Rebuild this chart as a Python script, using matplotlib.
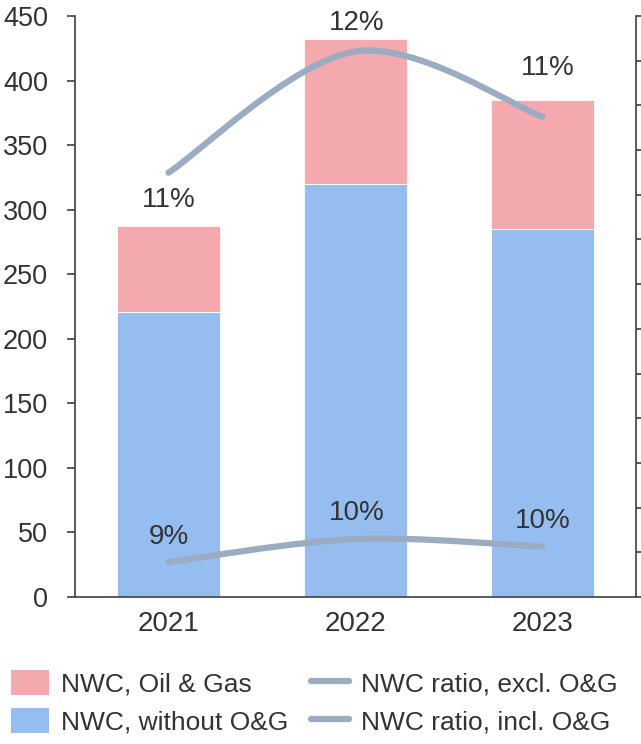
import numpy as np
import matplotlib
matplotlib.use("Agg")
import matplotlib.pyplot as plt
from matplotlib.path import Path
from matplotlib.patches import PathPatch, Patch
from matplotlib.lines import Line2D

plt.rcParams["font.family"] = ["Liberation Sans", "DejaVu Sans"]

years = ["2021", "2022", "2023"]
nwc_core = [221, 320, 285]          # NWC without O&G
nwc_oil_gas = [66, 112, 100]        # NWC, Oil & Gas
ratio_excl = [10.7, 12.0, 11.3]     # NWC ratio, excl. O&G (%)
ratio_incl = [9.4, 10.0, 9.8]       # NWC ratio, incl. O&G (%)

PINK = "#F4A9AE"
BLUE = "#96BDEF"
LINE = "#9AABC2"
TEXT = "#333333"
SPINE = "#404040"
DPI = 100


def smooth_path(xs, ys):
    # Catmull-Rom style cubic Bezier through the points
    pts = np.column_stack([xs, ys]).astype(float)
    n = len(pts)
    verts = [pts[0]]
    codes = [Path.MOVETO]
    for i in range(n - 1):
        p0 = pts[max(i - 1, 0)]
        p1 = pts[i]
        p2 = pts[i + 1]
        p3 = pts[min(i + 2, n - 1)]
        verts += [p1 + (p2 - p0) / 6, p2 - (p3 - p1) / 6, p2]
        codes += [Path.CURVE4] * 3
    return Path(verts, codes)


fig = plt.figure(figsize=(6.41, 7.44), dpi=DPI)
ax = fig.add_axes([75 / 641, 1 - 597 / 744, (636 - 75) / 641, (597 - 16) / 744])

x = np.arange(len(years))
ax.bar(x, nwc_core, width=0.55, color=BLUE, edgecolor="white", linewidth=0.6, zorder=2)
ax.bar(x, nwc_oil_gas, width=0.55, bottom=nwc_core, color=PINK, edgecolor="white",
       linewidth=0.6, zorder=2)

ax.set_xlim(-0.5, 2.5)
ax.set_ylim(0, 450)
ax.set_yticks(np.arange(0, 451, 50))
ax.set_xticks(x)
ax.set_xticklabels(years)
ax.tick_params(axis="y", labelsize=19.5, colors=SPINE, labelcolor=TEXT, length=5.8,
               width=1.2, pad=13.5)
ax.tick_params(axis="x", labelsize=20, labelcolor=TEXT, length=0, pad=10)
for side in ["top", "right"]:
    ax.spines[side].set_visible(False)
for side in ["left", "bottom"]:
    ax.spines[side].set_color(SPINE)
    ax.spines[side].set_linewidth(1.2)

# secondary axis: spine and ticks only
ax_r = ax.twinx()
ax_r.set_ylim(0, 13)
ax_r.set_yticks(np.arange(0, 14, 1))
ax_r.set_yticklabels([])
ax_r.tick_params(axis="y", length=6, width=1.2, colors=SPINE)
for side in ["top", "left", "bottom"]:
    ax_r.spines[side].set_visible(False)
ax_r.spines["right"].set_color(SPINE)
ax_r.spines["right"].set_linewidth(1.2)


def ratio_line(values, ylim, offsets_px):
    lax = ax.twinx()
    lax.set_ylim(*ylim)
    lax.axis("off")
    patch = PathPatch(smooth_path(x, values), fill=False, edgecolor=LINE, lw=4.5,
                      capstyle="round", zorder=3)
    lax.add_patch(patch)
    for i, v in enumerate(values):
        dx, dy = offsets_px[i]
        lax.annotate(f"{v:.0f}%", xy=(x[i], v), xytext=(dx * 72 / DPI, dy * 72 / DPI),
                     textcoords="offset points", ha="center", va="center",
                     fontsize=20, color=TEXT)


ratio_line(ratio_excl, (6.15, 12.38), [(0, -27), (1, 28), (5, 49)])
ratio_line(ratio_incl, (8.486, 23.66), [(0, 25), (1, 26), (0, 26)])

handles = [
    Patch(facecolor=PINK, edgecolor="none"),
    Patch(facecolor=BLUE, edgecolor="none"),
    Line2D([], [], color=LINE, lw=4.5, solid_capstyle="round"),
    Line2D([], [], color=LINE, lw=4.5, solid_capstyle="round"),
]
labels = ["NWC, Oil & Gas", "NWC, without O&G", "NWC ratio, excl. O&G", "NWC ratio, incl. O&G"]
leg = fig.legend(handles, labels, ncol=2, loc="upper left",
                 bbox_to_anchor=(11 / 641, 1 - 670 / 744), frameon=False, fontsize=19,
                 handlelength=1.44, handleheight=1.06, handletextpad=0.45,
                 columnspacing=0.85, labelspacing=0.45, borderpad=0, borderaxespad=0)
for t in leg.get_texts():
    t.set_color(TEXT)

fig.savefig("out.png", dpi=DPI)
